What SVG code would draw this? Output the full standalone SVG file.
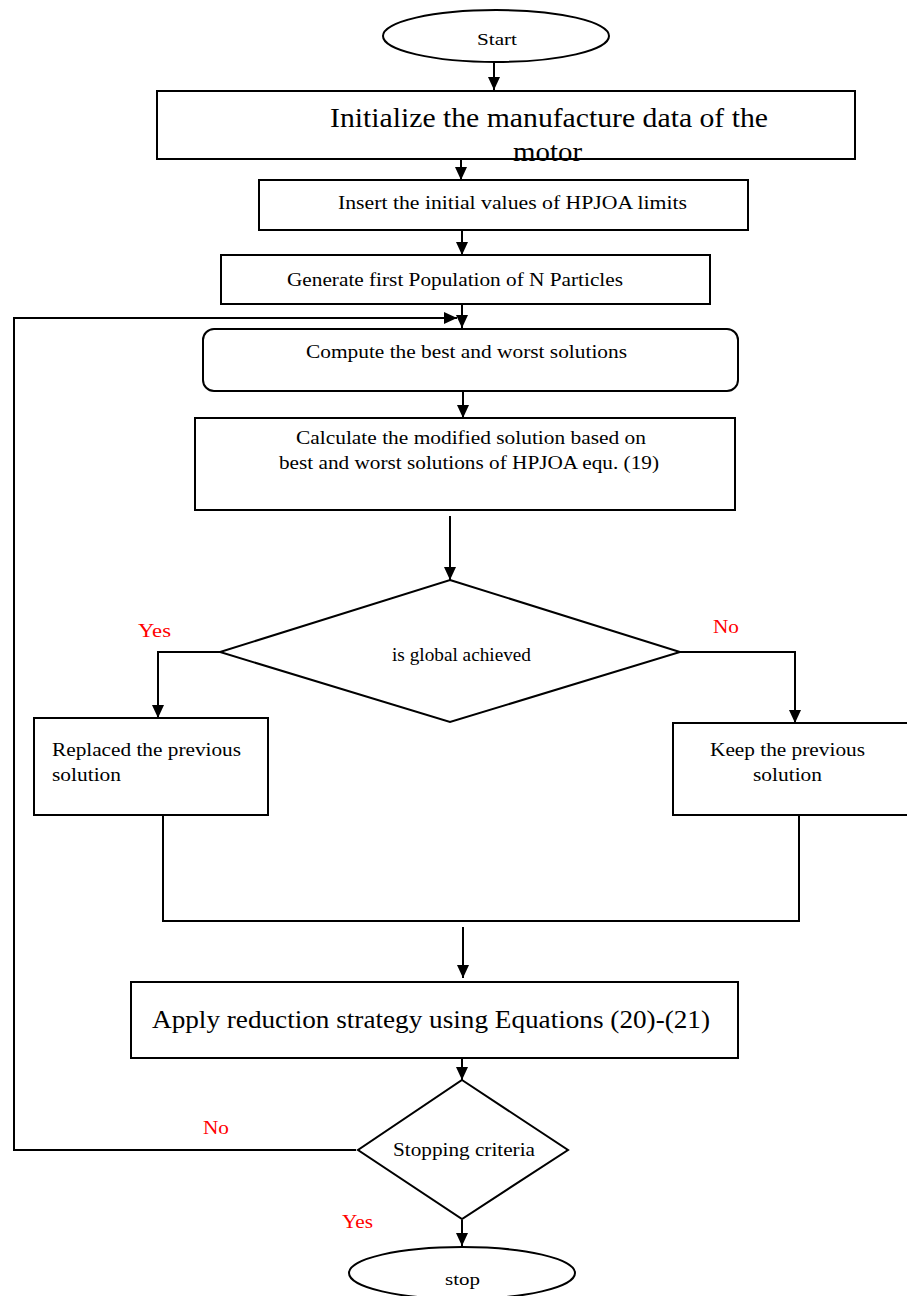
<svg xmlns="http://www.w3.org/2000/svg" width="907" height="1296" viewBox="0 0 907 1296">
<style>
.s{fill:#fff;stroke:#000;stroke-width:2}
.c{fill:none;stroke:#000;stroke-width:2}
.t{font-family:"Liberation Serif","Times New Roman",serif;font-size:18px;fill:#000}
.big{font-size:27px}
.med{font-size:25px}
.sm{font-size:16px}
.r{font-family:"Liberation Serif","Times New Roman",serif;font-size:18px;fill:#ff0000}
</style>
<defs>
<marker id="a" markerUnits="userSpaceOnUse" markerWidth="14" markerHeight="14" refX="13" refY="6" orient="auto">
<path d="M0,0 L13,6 L0,12 Z" fill="#000"/>
</marker>
</defs>
<g id="connectors">
<line class="c" x1="494" y1="62" x2="494" y2="90" marker-end="url(#a)"/>
<line class="c" x1="461" y1="159" x2="461" y2="180" marker-end="url(#a)"/>
<line class="c" x1="462" y1="230" x2="462" y2="255" marker-end="url(#a)"/>
<line class="c" x1="462" y1="304" x2="462" y2="328" marker-end="url(#a)"/>
<polyline class="c" points="356,1150 14,1150 14,318 457,318" marker-end="url(#a)"/>
<line class="c" x1="463" y1="392" x2="463" y2="418" marker-end="url(#a)"/>
<line class="c" x1="450" y1="516" x2="450" y2="580" marker-end="url(#a)"/>
<polyline class="c" points="222,652 158,652 158,718" marker-end="url(#a)"/>
<polyline class="c" points="680,652 795,652 795,723" marker-end="url(#a)"/>
<polyline class="c" points="163,815 163,921 799,921 799,815"/>
<line class="c" x1="463" y1="927" x2="463" y2="978" marker-end="url(#a)"/>
<line class="c" x1="462" y1="1059" x2="462" y2="1080" marker-end="url(#a)"/>
<line class="c" x1="462" y1="1220" x2="462" y2="1246" marker-end="url(#a)"/>
</g>
<g id="start">
<ellipse class="s" cx="496" cy="36" rx="113" ry="26"/>
<text class="t sm" x="477" y="45" textLength="40" lengthAdjust="spacingAndGlyphs">Start</text>
</g>
<g id="init">
<rect class="s" x="157" y="91" width="698" height="68"/>
<text class="t big" x="330" y="127" textLength="438" lengthAdjust="spacingAndGlyphs">Initialize the manufacture data of  the</text>
<text class="t big" x="513" y="161" textLength="69" lengthAdjust="spacingAndGlyphs">motor</text>
</g>
<g id="insert">
<rect class="s" x="259" y="180" width="489" height="50"/>
<text class="t" x="338" y="209" textLength="349" lengthAdjust="spacingAndGlyphs">Insert the initial values of  HPJOA limits</text>
</g>
<g id="generate">
<rect class="s" x="221" y="255" width="489" height="49"/>
<text class="t" x="287" y="286" textLength="336" lengthAdjust="spacingAndGlyphs">Generate first Population of N Particles</text>
</g>
<g id="compute">
<rect class="s" x="203" y="329" width="535" height="62" rx="11" ry="11"/>
<text class="t" x="306" y="358" textLength="321" lengthAdjust="spacingAndGlyphs">Compute the best and worst solutions</text>
</g>
<g id="calculate">
<rect class="s" x="195" y="418" width="540" height="92"/>
<text class="t" x="296" y="444" textLength="350" lengthAdjust="spacingAndGlyphs">Calculate the modified solution based on</text>
<text class="t" x="279" y="469" textLength="380" lengthAdjust="spacingAndGlyphs">best and worst solutions of HPJOA equ. (19)</text>
</g>
<g id="global">
<polygon class="s" points="450,580 680,652 450,722 220,652"/>
<text class="t" x="392" y="661" textLength="139" lengthAdjust="spacingAndGlyphs">is global achieved</text>
</g>
<g id="labels">
<text class="r" x="138" y="637" textLength="33" lengthAdjust="spacingAndGlyphs">Yes</text>
<text class="r" x="713" y="633" textLength="26" lengthAdjust="spacingAndGlyphs">No</text>
<text class="r" x="203" y="1134" textLength="26" lengthAdjust="spacingAndGlyphs">No</text>
<text class="r" x="342" y="1228" textLength="31" lengthAdjust="spacingAndGlyphs">Yes</text>
</g>
<g id="replaced">
<rect class="s" x="34" y="718" width="234" height="97"/>
<text class="t" x="52" y="756" textLength="189" lengthAdjust="spacingAndGlyphs">Replaced the previous</text>
<text class="t" x="52" y="781" textLength="69" lengthAdjust="spacingAndGlyphs">solution</text>
</g>
<g id="keep">
<rect class="s" x="673" y="723" width="240" height="92"/>
<text class="t" x="710" y="756" textLength="155" lengthAdjust="spacingAndGlyphs">Keep the previous</text>
<text class="t" x="753" y="781" textLength="69" lengthAdjust="spacingAndGlyphs">solution</text>
</g>
<g id="apply">
<rect class="s" x="131" y="982" width="607" height="76"/>
<text class="t med" x="152" y="1028" textLength="558" lengthAdjust="spacingAndGlyphs">Apply reduction strategy using Equations (20)-(21)</text>
</g>
<g id="stopping">
<polygon class="s" points="462,1080 568,1150 462,1219 358,1150"/>
<text class="t" x="393" y="1156" textLength="142" lengthAdjust="spacingAndGlyphs">Stopping criteria</text>
</g>
<g id="stop">
<ellipse class="s" cx="462" cy="1273" rx="113" ry="26"/>
<text class="t sm" x="445" y="1285" textLength="35" lengthAdjust="spacingAndGlyphs">stop</text>
</g>
</svg>
